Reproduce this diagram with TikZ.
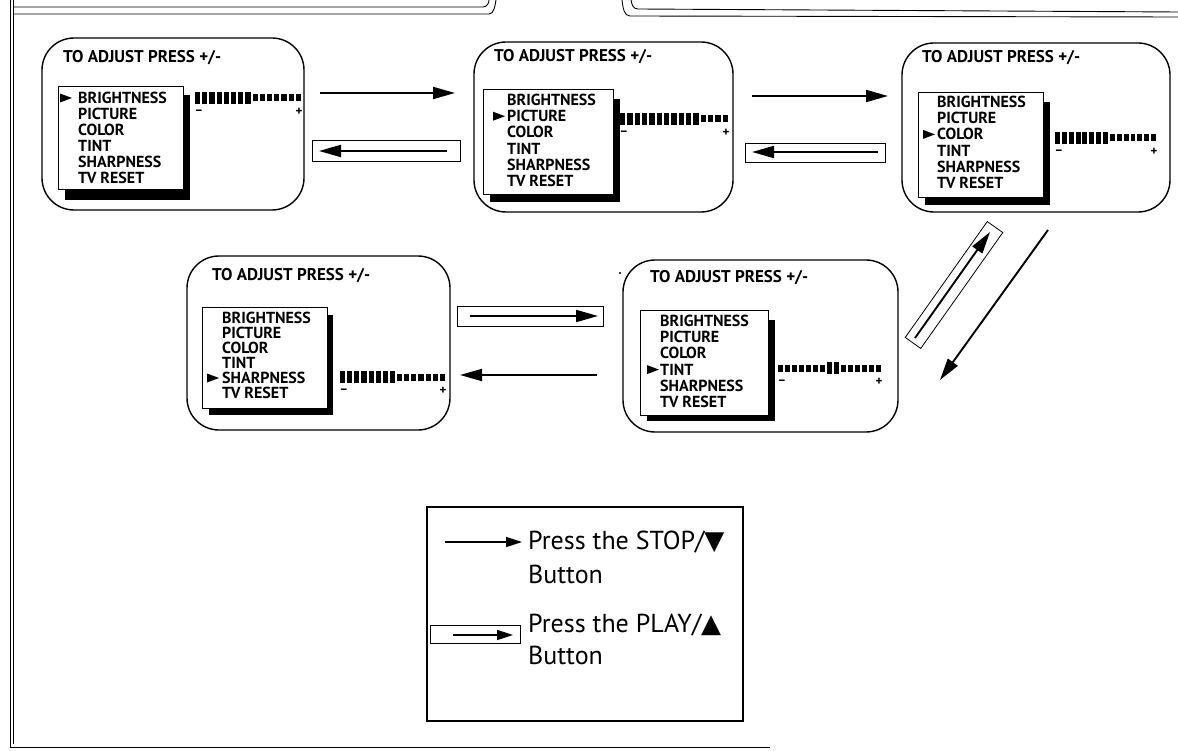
\documentclass[tikz,border=0pt]{standalone}
\usepackage{fontspec}
\setmainfont{PT Sans}
\newfontfamily\symfont{DejaVu Sans}
\usetikzlibrary{arrows.meta}
\tikzset{
  panel/.style={draw, line width=1.4pt, rounded corners=32pt, inner sep=0pt},
  menubox/.style={draw, fill=white, line width=1pt},
  menushadow/.style={fill=black},
  menutxt/.style={anchor=west, inner sep=0pt, font=\fontsize{16}{16}\selectfont\bfseries},
  titletxt/.style={anchor=base west, inner sep=0pt, font=\fontsize{17}{17}\selectfont\bfseries},
  pm/.style={inner sep=0pt, font=\fontsize{13}{13}\selectfont\bfseries},
  stoparrow/.style={line width=1.9pt, -{Triangle[length=22pt,width=12pt]}},
  legarrow/.style={line width=1.6pt, -{Triangle[length=16pt,width=10pt]}},
  playbox/.style={draw, line width=0.8pt, inner sep=0pt},
  border/.style={line width=0.9pt},
  legtxt/.style={anchor=base west, inner sep=0pt, font=\fontsize{26}{26}\selectfont},
}
% #1 id, #2 text x, #3 first y, #4 step, #5 selected, #6 marker x
\newcommand{\tvmenu}[6]{%
  \foreach \t [count=\i] in {BRIGHTNESS,PICTURE,COLOR,TINT,SHARPNESS,TV RESET}{
    \node[menutxt] (#1-\i) at (#2,{#3+(\i-1)*#4}) {\t};
  }
  \fill (#6,{#3+(#5-1)*#4-4.5}) -- ++(0,9) -- ++(12,-4.5) -- cycle;
}
% #1 x0, #2 yc, #3 x1, #4 first thick, #5 last thick
\newcommand{\lvbar}[5]{%
  \foreach \k in {1,...,15}{
    \pgfmathsetmacro\xa{#1+(\k-1)*(#3-#1)/15}
    \pgfmathsetmacro\xb{\xa+(#3-#1)/15*0.72}
    \ifnum\k<#4\relax
      \fill (\xa,#2-3.5) rectangle (\xb,#2+3.5);
    \else\ifnum\k>#5\relax
      \fill (\xa,#2-3.5) rectangle (\xb,#2+3.5);
    \else
      \fill (\xa,#2-6) rectangle (\xb,#2+6);
    \fi\fi
  }
  \node[pm] at (#1+4,#2+14) {–};
  \node[pm] at (#3-4,#2+14) {+};
}
\begin{document}
\begin{tikzpicture}[x=1pt,y=-1pt]
\useasboundingbox (0,0) rectangle (1178,751);

% page frame
\draw[border] (10,0) -- (10,747) -- (770,747);
\draw[border] (13,0) -- (13,744);
\draw[border] (13,14) -- (489,14) .. controls (494,14) and (495,6) .. (496,0);
\draw[border] (13,7) -- (483,7) .. controls (487,7) and (489,3) .. (489,0);
\draw[border] (622,0) .. controls (623,8) and (624,16) .. (630,16) -- (1178,17);
\draw[border] (631,0) .. controls (632,5) and (633,9) .. (638,9) -- (1178,12);

% panels
\node[panel, minimum width=262pt, minimum height=172pt] (p1) at (173,124) {};
\node[panel, minimum width=259pt, minimum height=170pt] (p2) at (603.5,127) {};
\node[panel, minimum width=268pt, minimum height=169pt] (p3) at (1036,127.5) {};
\node[panel, minimum width=263pt, minimum height=174pt] (p4) at (318.5,343) {};
\node[panel, minimum width=275pt, minimum height=172pt] (p5) at (760.5,346) {};

% titles
\node[titletxt] (t1) at (63,63) {TO ADJUST PRESS +/-};
\node[titletxt] (t2) at (494,62) {TO ADJUST PRESS +/-};
\node[titletxt] (t3) at (922,63) {TO ADJUST PRESS +/-};
\node[titletxt] (t4) at (212,281) {TO ADJUST PRESS +/-};
\node[titletxt] (t5) at (650,283) {TO ADJUST PRESS +/-};
\fill (620,273) circle (1.2);

% menu 1
\fill[menushadow] (65,95) rectangle (190,200);
\draw[menubox] (58,87) rectangle (183,190);
\tvmenu{m1}{78}{98}{15.9}{1}{60}
\lvbar{195}{98}{303}{1}{8}
% menu 2
\fill[menushadow] (490,99) rectangle (620,202);
\draw[menubox] (483,90) rectangle (613,195);
\tvmenu{m2}{507}{100}{16.2}{2}{493}
\lvbar{620}{119}{730}{1}{11}
% menu 3
\fill[menushadow] (925,102) rectangle (1050,205);
\draw[menubox] (918,93) rectangle (1043,198);
\tvmenu{m3}{937}{102}{16.2}{3}{923}
\lvbar{1055}{138}{1158}{1}{8}
% menu 4
\fill[menushadow] (209,315) rectangle (333,415);
\draw[menubox] (202,308) rectangle (327,408);
\tvmenu{m4}{222}{318}{15}{5}{207}
\lvbar{340}{377}{447}{1}{8}
% menu 5
\fill[menushadow] (647,320) rectangle (775,421);
\draw[menubox] (640,311) rectangle (768,415);
\tvmenu{m5}{660}{321}{16.2}{4}{647}
\lvbar{778}{368}{883}{8}{9}

% play boxes
\node[playbox, minimum width=148pt, minimum height=21pt] (b1) at (386,150.5) {};
\node[playbox, minimum width=140pt, minimum height=19pt] (b2) at (815,152.5) {};
\node[playbox, minimum width=146pt, minimum height=20pt] (b3) at (530,316) {};
\node[playbox, rotate=54.7, minimum width=142pt, minimum height=19pt] (b4) at (954,285) {};

% arrow end points
\coordinate (f1s) at (320,93);   \coordinate (f1e) at (455,93);
\coordinate (r1s) at (447,151);  \coordinate (r1e) at (319,151);
\coordinate (f2s) at (752,96);   \coordinate (f2e) at (888,96);
\coordinate (r2s) at (878,152);  \coordinate (r2e) at (752,152);
\coordinate (ds) at (1048,230);  \coordinate (de) at (940,380);
\coordinate (us) at (915,338);   \coordinate (ue) at (990,232);
\coordinate (f3s) at (470,316);  \coordinate (f3e) at (598,316);
\coordinate (r3s) at (597,375);  \coordinate (r3e) at (460,375);

\draw[stoparrow] (f1s) -- (f1e);
\draw[stoparrow] (r1s) -- (r1e);
\draw[stoparrow] (f2s) -- (f2e);
\draw[stoparrow] (r2s) -- (r2e);
\draw[stoparrow] (ds) -- (de);
\draw[stoparrow] (us) -- (ue);
\draw[stoparrow] (f3s) -- (f3e);
\draw[stoparrow] (r3s) -- (r3e);

% legend
\node[draw, line width=1.3pt, minimum width=316pt, minimum height=214pt, inner sep=0pt] (leg) at (585,614) {};
\coordinate (l1s) at (445,542); \coordinate (l1e) at (522,542);
\draw[legarrow] (l1s) -- (l1e);
\node[legtxt] (lt1) at (528,549) {Press the STOP/{\symfont ▼}};
\node[legtxt] (lt2) at (528,583) {Button};
\node[playbox, minimum width=90pt, minimum height=18pt] (lb) at (475,634) {};
\coordinate (l2s) at (453,635); \coordinate (l2e) at (513,635);
\draw[legarrow] (l2s) -- (l2e);
\node[legtxt] (lt3) at (528,632) {Press the PLAY/{\symfont ▲}};
\node[legtxt] (lt4) at (528,664) {Button};
\end{tikzpicture}
\end{document}
